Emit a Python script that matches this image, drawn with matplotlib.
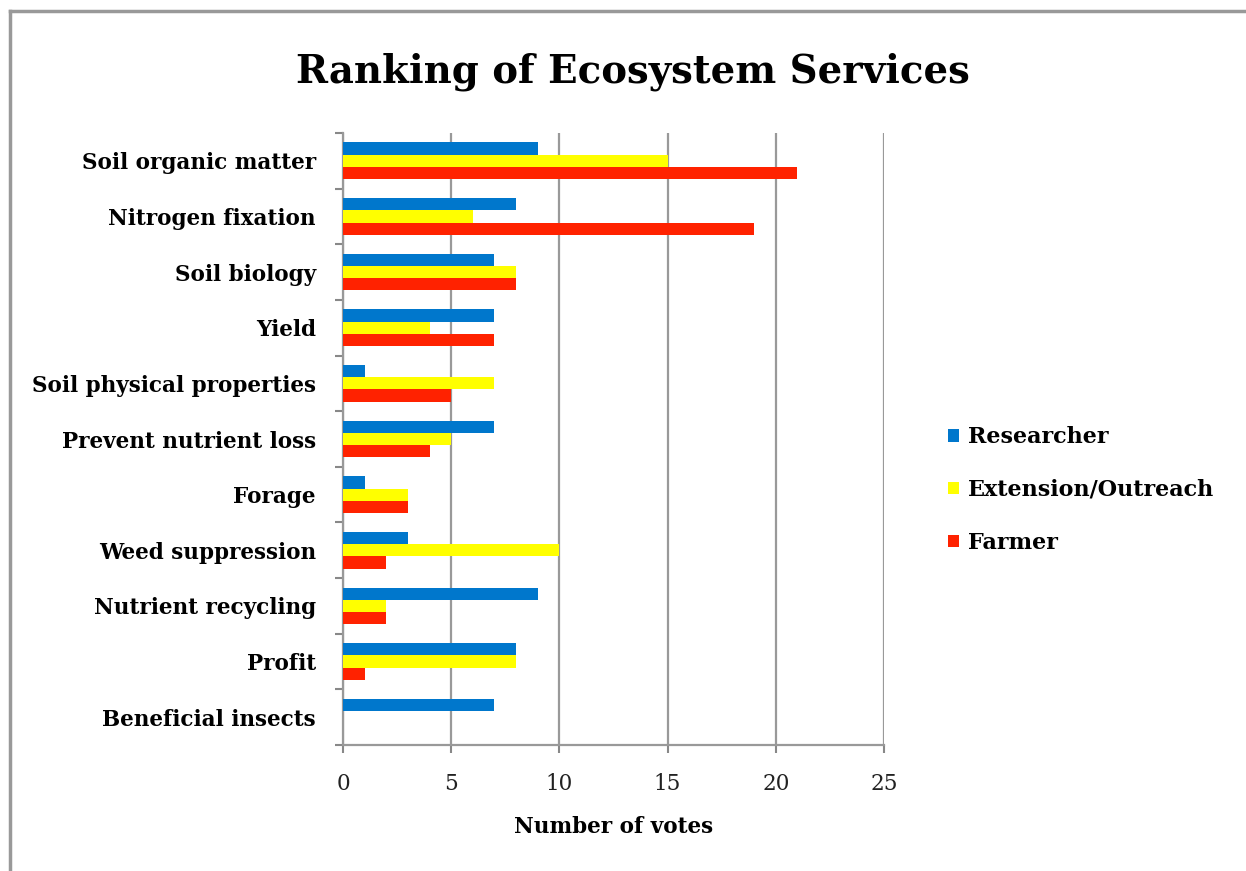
import matplotlib
matplotlib.use("Agg")
import matplotlib.pyplot as plt
import numpy as np
from matplotlib.lines import Line2D

categories = ["Soil organic matter", "Nitrogen fixation", "Soil biology", "Yield",
              "Soil physical properties", "Prevent nutrient loss", "Forage",
              "Weed suppression", "Nutrient recycling", "Profit", "Beneficial insects"]
researcher = [9, 8, 7, 7, 1, 7, 1, 3, 9, 8, 7]
extension = [15, 6, 8, 4, 7, 5, 3, 10, 2, 8, 0]
farmer = [21, 19, 8, 7, 5, 4, 3, 2, 2, 1, 0]
series_names = ["Researcher", "Extension/Outreach", "Farmer"]
colors = ["#0077CC", "#FFFF00", "#FF2200"]
xticks = [0, 5, 10, 15, 20, 25]

FONT = "DejaVu Serif"
plt.rcParams["font.family"] = FONT

fig = plt.figure(figsize=(12.46, 8.71), dpi=100)
ax = fig.add_axes([343/1246, 1-745/871, (884-343)/1246, (745-133)/871])

y = np.arange(len(categories))
h = 0.22
for i, (vals, name, c) in enumerate(zip([researcher, extension, farmer], series_names, colors)):
    ax.barh(y + (i - 1) * h, vals, height=h, color=c, label=name, zorder=3)

ax.set_ylim(len(categories) - 0.5, -0.5)
ax.set_xlim(0, 25)
ax.set_xticks(xticks)
ax.set_xticklabels([str(t) for t in xticks], fontsize=15.5, color="#222222")
ax.set_yticks(y)
ax.set_yticklabels(categories, fontsize=15.5, fontweight="bold")
ax.set_yticks(np.arange(-0.5, len(categories)), minor=True)
ax.tick_params(axis="y", which="major", length=0, pad=19.5)
ax.tick_params(axis="y", which="minor", length=6, color="#888888", width=1.5, direction="out")
ax.tick_params(axis="x", length=6, color="#888888", width=1.5, direction="out", pad=14)
ax.grid(axis="x", color="#999999", linewidth=1.6, zorder=0)
for s in ["top", "right"]:
    ax.spines[s].set_visible(False)
for s in ["left", "bottom"]:
    ax.spines[s].set_color("#999999")
    ax.spines[s].set_linewidth(1.6)
ax.set_xlabel("Number of votes", fontsize=15.5, fontweight="bold", labelpad=15)

fig.text(633/1246, 1-72/871, "Ranking of Ecosystem Services", ha="center", va="center",
         fontsize=27.8, fontweight="bold")

leg = fig.legend(loc="center left", bbox_to_anchor=(928/1246, 1-490/871), frameon=False,
                 prop={"size": 16, "weight": "bold"}, handlelength=0.5, handleheight=0.5,
                 handletextpad=0.4, labelspacing=1.39)

# frame lines (top and left)
fig.add_artist(Line2D([10/1246, 1], [1-11/871, 1-11/871], color="#999999", linewidth=2.5, transform=fig.transFigure))
fig.add_artist(Line2D([10/1246, 10/1246], [0, 1-11/871], color="#999999", linewidth=2.5, transform=fig.transFigure))

fig.savefig("out.png", dpi=100)
